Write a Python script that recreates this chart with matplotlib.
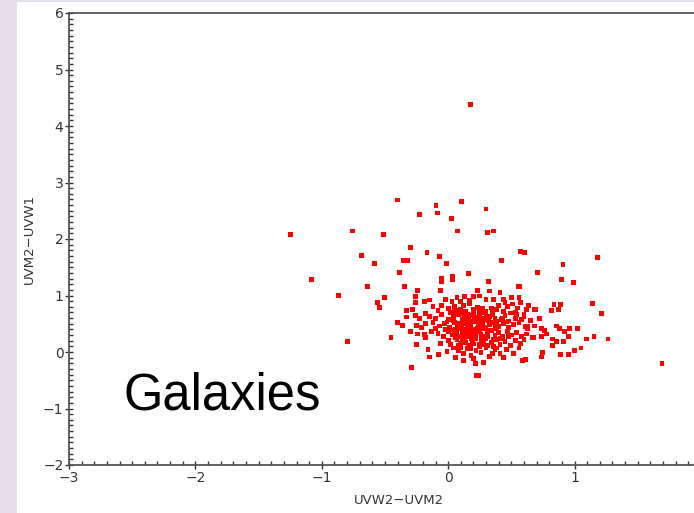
import matplotlib.pyplot as plt
import numpy as np
from matplotlib.ticker import MultipleLocator
from matplotlib.patches import Rectangle

# scattered points outside the main clump (UVW2-UVM2, UVM2-UVW1)
outer_x = [0.176, -0.403, -0.097, 0.105, -0.229, -0.087, 0.024, 0.30, -1.247, -0.759,
           -0.514, 0.077, 0.311, 0.361, -0.30, -0.688, -0.168, -0.069, -0.585, -0.353,
           -0.322, -0.016, 0.421, 0.575, 0.603, 1.183, 0.909, -0.382, 0.706, -1.083,
           -0.638, -0.343, -0.055, -0.055, 0.034, 0.034, 0.158, 0.319, 0.564, 0.899,
           0.99, -0.87, -0.798, -0.503, -0.556, -0.545, -0.453, -0.29, -0.403, -0.361,
           -0.30, -0.25, -0.16, -0.148, -0.079, 0.216, 0.22, 0.24, 1.141, 1.215,
           0.838, 0.888, 0.817, 0.87, 0.685, 0.635, 1.022, 0.959, 0.92, 0.859,
           0.883, 0.951, 0.91, 0.827, 0.859, 0.825, 1.093, 1.154, 1.265, 1.051,
           1.0, 0.95, 0.888, 0.738, 0.749, 0.614, 1.692, 0.764, 0.743, 0.777,
           0.738, 0.674, 0.617, 0.632, 0.559, -0.24, -0.058]
outer_y = [4.38, 2.69, 2.60, 2.67, 2.44, 2.46, 2.37, 2.53, 2.08, 2.14,
           2.08, 2.14, 2.12, 2.14, 1.85, 1.71, 1.76, 1.69, 1.57, 1.62,
           1.62, 1.57, 1.62, 1.78, 1.76, 1.67, 1.55, 1.41, 1.41, 1.28,
           1.16, 1.16, 1.30, 1.25, 1.34, 1.28, 1.39, 1.25, 1.16, 1.28,
           1.23, 1.00, 0.18, 0.96, 0.88, 0.79, 0.25, -0.28, 0.52, 0.47,
           0.36, 0.13, 0.04, -0.09, -0.05, -0.21, -0.41, -0.41, 0.86, 0.68,
           0.84, 0.84, 0.73, 0.75, 0.75, 0.82, 0.41, 0.41, 0.37, 0.46,
           0.41, 0.27, 0.18, 0.23, 0.18, 0.11, 0.23, 0.27, 0.23, 0.07,
           0.02, -0.05, -0.05, -0.09, -0.01, -0.13, -0.21, 0.38, 0.41, 0.32,
           0.27, 0.25, 0.32, 0.46, 1.16, 1.09, 1.09]

# main clump
core_x = [0.23, 0.33, 0.41, -0.26, 0.13, 0.20, 0.25, 0.07, 0.50, 0.56, -0.02, 0.30, 0.36, 0.44,
          -0.15, 0.03, -0.19, -0.26, 0.17, 0.10,
          0.12, 0.17, 0.23, 0.27, 0.34, 0.38, 0.44, 0.49, 0.54, 0.60, 0.62, 0.64, -0.33, -0.28,
          -0.12, -0.05, 0.00, 0.05, 0.08, -0.08, 0.02, 0.14, 0.20, 0.30, 0.40, 0.47, 0.55, 0.69, 0.64,
          -0.33, -0.26, -0.23, -0.15, -0.10, -0.05, 0.00, 0.04, 0.11, 0.16, 0.21, 0.27, 0.32, 0.37,
          0.42, 0.48, 0.53, 0.58, 0.65, 0.72, 0.08, 0.19, 0.25, 0.35, 0.45, 0.60, -0.18, 0.12, 0.28,
          -0.25, -0.21, -0.18, -0.12, -0.07, -0.03, 0.01, 0.05, 0.08, 0.12, 0.15, 0.18, 0.21, 0.24,
          0.27, 0.30, 0.33, 0.36, 0.40, 0.44, 0.48, 0.52, 0.56, 0.61, 0.63, 0.68, 0.74, 0.76, 0.10,
          0.20, 0.06, -0.10, 0.14, 0.26, 0.38, 0.46, -0.01, 0.17, 0.23, 0.11,
          -0.24, -0.19, -0.18, -0.13, -0.08, -0.04, 0.00, 0.03, 0.06, 0.09, 0.12, 0.14, 0.16, 0.19,
          0.22, 0.25, 0.28, 0.31, 0.34, 0.37, 0.40, 0.43, 0.47, 0.50, 0.54, 0.58, 0.62, 0.67, 0.74,
          0.78, 0.07, 0.13, 0.20, 0.26, 0.11, 0.17, 0.23, 0.05, 0.15, 0.21,
          -0.06, 0.00, 0.04, 0.02, 0.07, 0.10, 0.13, 0.16, 0.19, 0.22, 0.25, 0.28, 0.31, 0.34, 0.38,
          0.41, 0.45, 0.49, 0.53, 0.57, 0.60, 0.14, 0.18, 0.09, 0.26, 0.36, 0.43, 0.11, 0.20, 0.30,
          -0.16, -0.01, 0.06, 0.08, 0.12, 0.15, 0.18, 0.22, 0.26, 0.30, 0.33, 0.37, 0.41, 0.46,
          0.52, 0.56, 0.12, 0.22, 0.28, 0.59, 0.20, 0.10, 0.25, 0.35, 0.44, -0.08, -0.15,
          0.09, 0.16, 0.24, 0.13, 0.19, 0.27, 0.15, 0.21, 0.07, 0.18, 0.29, 0.32, 0.14, 0.25,
          # densest part of the clump
          0.04, 0.09, 0.13, 0.18, 0.23, 0.28, 0.33, 0.38, 0.43, 0.02, 0.07, 0.12, 0.17, 0.22,
          0.27, 0.32, 0.37, 0.06, 0.11, 0.16, 0.21, 0.26, 0.31, 0.36, 0.41, 0.05, 0.10, 0.15,
          0.20, 0.25, 0.30, 0.35, -0.02, 0.08, 0.18, 0.28, 0.38, 0.48, 0.53, 0.45, 0.51, 0.57]
core_y = [1.09, 1.08, 1.05, 0.98, 0.98, 0.98, 0.99, 0.96, 0.96, 0.96, 0.93, 0.93, 0.93, 0.93,
          0.92, 0.90, 0.90, 0.88, 0.91, 0.89,
          0.83, 0.85, 0.79, 0.77, 0.78, 0.75, 0.72, 0.69, 0.66, 0.66, 0.75, 0.83, 0.73, 0.75,
          0.80, 0.82, 0.77, 0.80, 0.74, 0.73, 0.70, 0.72, 0.70, 0.72, 0.83, 0.80, 0.78, 0.75, 0.82,
          0.62, 0.65, 0.59, 0.63, 0.60, 0.66, 0.58, 0.63, 0.57, 0.60, 0.56, 0.60, 0.56, 0.60,
          0.58, 0.55, 0.60, 0.57, 0.56, 0.60, 0.66, 0.64, 0.66, 0.66, 0.64, 0.62, 0.68, 0.68, 0.69,
          0.47, 0.43, 0.50, 0.52, 0.46, 0.50, 0.44, 0.52, 0.47, 0.50, 0.43, 0.48, 0.53, 0.45,
          0.50, 0.42, 0.48, 0.52, 0.45, 0.50, 0.43, 0.48, 0.52, 0.45, 0.41, 0.46, 0.41, 0.38, 0.41,
          0.40, 0.40, 0.42, 0.54, 0.55, 0.41, 0.53, 0.53, 0.45, 0.42, 0.46,
          0.32, 0.31, 0.25, 0.37, 0.33, 0.28, 0.36, 0.30, 0.35, 0.27, 0.32, 0.38, 0.29, 0.35,
          0.30, 0.37, 0.27, 0.33, 0.38, 0.29, 0.34, 0.28, 0.36, 0.30, 0.35, 0.27, 0.32, 0.25, 0.27,
          0.32, 0.39, 0.26, 0.26, 0.32, 0.35, 0.33, 0.36, 0.31, 0.34, 0.38,
          0.15, 0.20, 0.07, 0.13, 0.22, 0.16, 0.21, 0.12, 0.18, 0.23, 0.14, 0.20, 0.11, 0.17, 0.22,
          0.13, 0.19, 0.12, 0.20, 0.15, 0.22, 0.17, 0.24, 0.10, 0.22, 0.10, 0.24, 0.20, 0.14, 0.24,
          0.05, 0.01, -0.10, 0.03, -0.03, 0.06, -0.06, 0.02, -0.01, 0.07, -0.08, 0.04, -0.03, 0.05,
          -0.02, 0.07, -0.15, -0.21, -0.18, -0.15, -0.12, 0.08, 0.09, -0.02, -0.10, -0.05, -0.09,
          0.44, 0.40, 0.47, 0.36, 0.30, 0.41, 0.52, 0.58, 0.33, 0.27, 0.44, 0.62, 0.63, 0.55,
          0.56, 0.51, 0.60, 0.55, 0.61, 0.57, 0.63, 0.54, 0.60, 0.39, 0.45, 0.40, 0.51, 0.39,
          0.44, 0.39, 0.46, 0.25, 0.23, 0.27, 0.29, 0.24, 0.27, 0.23, 0.24, 0.71, 0.75, 0.66,
          0.76, 0.71, 0.66, 0.71, 0.40, 0.11, 0.06, 0.13, 0.07, 0.28, 0.70, 0.88, 0.85, 0.87]

x = np.array(outer_x + core_x)
y = np.array(outer_y + core_y)

fig = plt.figure(figsize=(6.94, 5.13), dpi=100, facecolor='#e7deeb')
# white slide area (lavender strip left and top)
fig.patches.append(Rectangle((17 / 694, 0), 1, 1 - 2 / 513, transform=fig.transFigure,
                             facecolor='white', edgecolor='none', zorder=-5))
ax = fig.add_axes([69 / 694, 1 - 465 / 513, 1 - 69 / 694, (465 - 13) / 513])
ax.set_facecolor('white')

ax.scatter(x, y, marker='s', s=12, color='#ff0000', edgecolors='none', zorder=3)

ax.set_xlim(-3, 1.945)
ax.set_ylim(-2, 6)
ax.xaxis.set_major_locator(MultipleLocator(1))
ax.xaxis.set_minor_locator(MultipleLocator(0.1))
ax.yaxis.set_major_locator(MultipleLocator(1))
ax.yaxis.set_minor_locator(MultipleLocator(0.1))
ax.tick_params(which='major', direction='inout', length=6, width=1, color='#333333',
               labelsize=10, labelcolor='#333333', pad=1)
ax.tick_params(which='minor', direction='in', length=3, width=1, color='#333333')
ax.xaxis.set_major_formatter(plt.FuncFormatter(lambda v, p: f"{v:.0f}".replace('-', '\u2212')))
ax.yaxis.set_major_formatter(plt.FuncFormatter(lambda v, p: f"{v:.0f}".replace('-', '\u2212')))

for s in ['left', 'bottom', 'top']:
    ax.spines[s].set_color('#555555')
    ax.spines[s].set_linewidth(1.3)
ax.spines['right'].set_visible(False)

ax.set_xlabel('UVW2\u2212UVM2', fontsize=9.5, color='#333333')
ax.xaxis.set_label_coords(0.528, -0.065)
ax.set_ylabel('UVM2\u2212UVW1', fontsize=9.5, color='#333333')
ax.yaxis.set_label_coords(-0.053, 0.5)

fig.text(124 / 694, 1 - 410 / 513, 'Galaxies', fontsize=36.5, family='Liberation Sans',
         color='black', ha='left', va='baseline')

fig.savefig('out.png', dpi=100, facecolor=fig.get_facecolor())
